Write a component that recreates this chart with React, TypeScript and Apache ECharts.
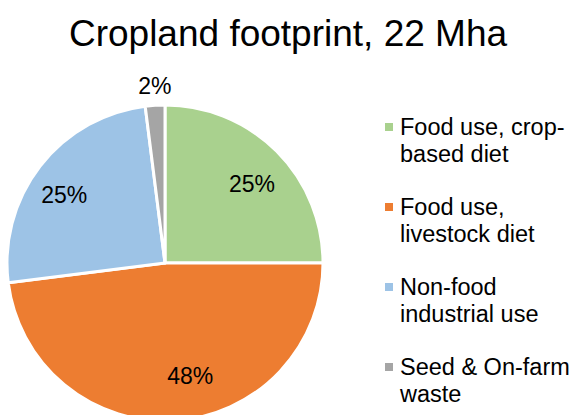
import React, { useEffect, useRef } from "react";
import * as echarts from "echarts";

const title = "Cropland footprint, 22 Mha";
const categories = [
  "Food use, crop-\nbased diet",
  "Food use,\nlivestock diet",
  "Non-food\nindustrial use",
  "Seed & On-farm\nwaste",
];
const shares = [25, 48, 25, 2];
const colors = ["#A9D18E", "#ED7D31", "#9DC3E6", "#A5A5A5"];
const labelShift = [
  [29, -21],
  [20, 31],
  [-36, -18],
  [-5, -95],
];

const FONT = "'Liberation Sans', Arial, sans-serif";

export default function App() {
  const ref = useRef<HTMLDivElement>(null);
  useEffect(() => {
    if (!ref.current) return;
    const chart = echarts.init(ref.current, undefined, { renderer: "svg" });
    const legendGraphics: any[] = [];
    categories.forEach((c, i) => {
      const yc = 127 + i * 80;
      legendGraphics.push({
        type: "rect",
        shape: { x: 385, y: yc - 4, width: 8, height: 8 },
        style: { fill: colors[i] },
      });
      legendGraphics.push({
        type: "text",
        x: 400,
        y: yc - 14,
        style: {
          text: c,
          font: `23.5px ${FONT}`,
          fill: "#000",
          lineHeight: 27,
          textVerticalAlign: "top",
        },
      });
    });
    chart.setOption({
      animation: false,
      title: {
        text: title,
        left: "center",
        top: 10,
        textStyle: { fontFamily: FONT, fontSize: 37, fontWeight: "normal", color: "#000" },
      },
      graphic: legendGraphics,
      series: [
        {
          type: "pie",
          center: [165, 263],
          radius: 158,
          startAngle: 90,
          data: categories.map((c, i) => ({
            name: c,
            value: shares[i],
            itemStyle: { color: colors[i] },
          })),
          itemStyle: { borderColor: "#fff", borderWidth: 3 },
          label: {
            show: true,
            position: "inside",
            formatter: "{d}%",
            fontFamily: FONT,
            fontSize: 23,
            color: "#000",
          },
          labelLine: { show: false },
          labelLayout: (p: any) => ({ dx: labelShift[p.dataIndex][0], dy: labelShift[p.dataIndex][1] }),
          emphasis: { disabled: true },
        },
      ],
    });
    return () => chart.dispose();
  }, []);
  return <div ref={ref} style={{ width: 576, height: 415, position: "absolute", left: 0, top: 0 }} />;
}
